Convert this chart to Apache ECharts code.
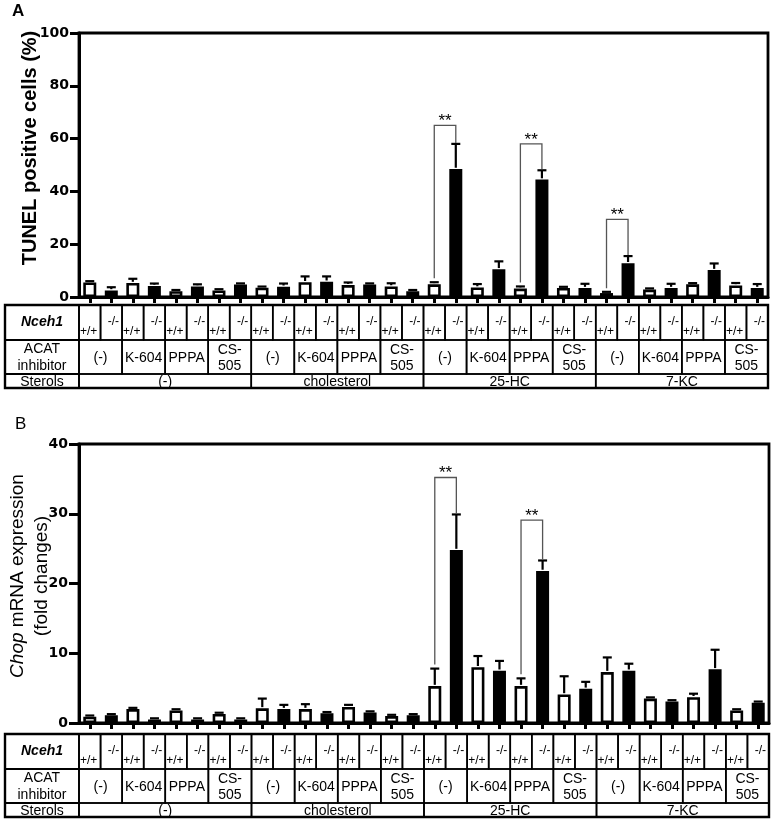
<!DOCTYPE html>
<html><head><meta charset="utf-8">
<script src="https://cdn.jsdelivr.net/npm/echarts@6/dist/echarts.min.js"></script>
<style>html,body{margin:0;padding:0;background:#fff}#c{width:774px;height:819px}</style>
</head><body><div id="c"></div><script>
// ---- data ----
const sterols = ['(-)', 'cholesterol', '25-HC', '7-KC'];
const inhibitors = ['(-)', 'K-604', 'PPPA', 'CS-\n505'];
const genotypes = ['+/+', '-/-'];
const tunelMean = [5.5,2.5,5.3,4.2, 2.2,4.0,2.5,4.7, 3.5,3.9,5.6,5.8, 4.5,4.7,4.0,2.2,
                   4.8,48.5,3.6,10.5, 3.2,44.5,3.4,3.4, 1.5,12.8,2.8,3.4, 4.8,10.2,4.4,3.4];
const tunelErr  = [0.5,1.2,1.6,0.9, 0.3,0.8,0.2,0.3, 0.2,1.2,2.2,2.0, 1.0,0.3,1.2,0.3,
                   0.8,9.5,1.3,3.0, 0.8,3.5,0.3,1.6, 0.3,2.7,0.2,1.6, 0.3,2.5,0.9,1.5];
const chopMean  = [0.9,1.1,2.0,0.5, 1.8,0.5,1.3,0.5, 2.1,2.0,2.0,1.4, 2.3,1.5,1.0,1.1,
                   5.3,24.8,8.0,7.5, 5.3,21.8,4.1,4.9, 7.3,7.5,3.5,3.1, 3.7,7.7,1.8,2.9];
const chopErr   = [0.1,0.1,0.1,0.05, 0.1,0.05,0.15,0.05, 1.4,0.6,0.7,0.1, 0.3,0.1,0.1,0.1,
                   2.5,5.1,1.6,1.4, 1.1,1.5,2.6,1.0, 2.1,1.0,0.1,0.1, 0.5,2.8,0.1,0.1];
const tunelTicks = [0, 100, 20];
const chopTicks = [0, 40, 10];
// significance brackets: [left bar index, right bar index, bracket height]
const sigA = [[16,17,65],[20,21,58],[24,25,29.4]];
const sigB = [[16,17,35.2],[20,21,29.1]];
const sigLabel = '**';

// ---- chart ----
const FONT = '"Liberation Sans", Arial, Helvetica, sans-serif';
const TICKFONT = '"DejaVu Sans", sans-serif';
const cats = [];
sterols.forEach(s => inhibitors.forEach(a => genotypes.forEach(g => cats.push(s + '|' + a + '|' + g))));
const N = cats.length;
const isKO = i => genotypes[i % genotypes.length] === '-/-';

const chart = echarts.init(document.getElementById('c'));

function barSeries(mean, k) {
  return {
    type: 'bar', xAxisIndex: k, yAxisIndex: k, barWidth: 13, z: 2,
    data: mean.map((v, i) => ({
      value: v,
      itemStyle: { color: isKO(i) ? '#000' : '#fff', borderColor: '#000', borderWidth: 2.6 }
    }))
  };
}
function errSeries(mean, err, k) {
  return {
    type: 'custom', xAxisIndex: k, yAxisIndex: k, z: 3,
    data: mean.map((v, i) => [i, v, err[i]]),
    renderItem: (params, api) => {
      const i = api.value(0), m = api.value(1), e = api.value(2);
      const p0 = api.coord([i, m]), p1 = api.coord([i, m + e]);
      const top = Math.min(p1[1], p0[1] - 1.2);
      return { type: 'group', children: [
        { type: 'line', shape: { x1: p0[0], y1: p0[1] - 1.2, x2: p0[0], y2: top }, style: { stroke: '#000', lineWidth: 2.2 } },
        { type: 'line', shape: { x1: p0[0] - 4.5, y1: top, x2: p0[0] + 4.5, y2: top }, style: { stroke: '#000', lineWidth: 2.2 } }
      ]};
    }
  };
}
function sigSeries(sig, mean, err, k) {
  return {
    type: 'custom', xAxisIndex: k, yAxisIndex: k, z: 4,
    data: sig.map(s => [s[0], s[1], s[2]]),
    renderItem: (params, api) => {
      const a = api.value(0), b = api.value(1), t = api.value(2);
      const pa = api.coord([a, mean[a] + err[a]]), pb = api.coord([b, mean[b] + err[b]]), pt = api.coord([a, t]);
      return { type: 'group', children: [
        { type: 'polyline', shape: { points: [[pa[0], pa[1] - 4], [pa[0], pt[1]], [pb[0], pt[1]], [pb[0], pb[1] - 1]] },
          style: { stroke: '#555', lineWidth: 1.3, fill: null } },
        { type: 'text', x: (pa[0] + pb[0]) / 2, y: pt[1] - 4,
          style: { text: sigLabel, align: 'center', verticalAlign: 'middle', font: '17px ' + FONT, fill: '#000' } }
      ]};
    }
  };
}
function xAx(k) {
  return {
    type: 'category', gridIndex: k, data: cats, boundaryGap: true,
    axisLabel: { show: false, interval: 0 },
    axisTick: { show: true, interval: 0, alignWithLabel: true, length: 6, lineStyle: { width: 3, color: '#000' } },
    axisLine: { show: true, lineStyle: { width: 3, color: '#000' } }
  };
}
function yAx(k, ticks, tickLen) {
  return {
    type: 'value', gridIndex: k, min: ticks[0], max: ticks[1], interval: ticks[2],
    splitLine: { show: false },
    axisLine: { show: true, lineStyle: { width: 3, color: '#000' } },
    axisTick: { show: true, length: tickLen, lineStyle: { width: 3, color: '#000' } },
    axisLabel: { fontFamily: TICKFONT, fontWeight: 'bold', fontSize: 14, color: '#000', margin: tickLen + 1 }
  };
}

chart.setOption({
  animation: false,
  backgroundColor: '#fff',
  grid: [
    { left: 79, top: 33, width: 689, height: 264, show: true, borderColor: '#000', borderWidth: 2.8, backgroundColor: 'transparent' },
    { left: 79, top: 444, width: 690, height: 279, show: true, borderColor: '#000', borderWidth: 2.8, backgroundColor: 'transparent' }
  ],
  xAxis: [xAx(0), xAx(1)],
  yAxis: [yAx(0, tunelTicks, 9), yAx(1, chopTicks, 10)],
  series: [
    barSeries(tunelMean, 0), errSeries(tunelMean, tunelErr, 0), sigSeries(sigA, tunelMean, tunelErr, 0),
    barSeries(chopMean, 1), errSeries(chopMean, chopErr, 1), sigSeries(sigB, chopMean, chopErr, 1)
  ]
});

// ---- tables & titles (positions derived from the axes) ----
function txt(text, x, y, font, align, valign, lineHeight) {
  const st = { text: text, font: font, fill: '#000', align: align, verticalAlign: valign };
  if (lineHeight) st.lineHeight = lineHeight;
  return { type: 'text', x: x, y: y, z: 10, style: st };
}
function rect(x, y, w, h, lw) {
  return { type: 'rect', z: 9, shape: { x: x, y: y, width: w, height: h }, style: { fill: null, stroke: '#000', lineWidth: lw } };
}
function table(k, gap, rowH) {
  const els = [];
  const base = chart.convertToPixel({ yAxisIndex: k }, 0);
  const xc = i => chart.convertToPixel({ xAxisIndex: k }, i);
  const slot = xc(1) - xc(0);
  const L = 5, x0 = xc(0) - slot / 2, x1 = xc(N - 1) + slot / 2;
  const t0 = base + gap, t1 = t0 + rowH[0], t2 = t1 + rowH[1], t3 = t2 + rowH[2];
  // label column
  els.push(rect(L, t0, x0 - L, rowH[0], 1.8), rect(L, t1, x0 - L, rowH[1], 1.8), rect(L, t2, x0 - L, rowH[2], 1.8));
  els.push(txt('Nceh1', (L + x0) / 2, (t0 + t1) / 2, 'italic bold 14px ' + FONT, 'center', 'middle'));
  els.push(txt('ACAT\ninhibitor', (L + x0) / 2, (t1 + t2) / 2 + 1, '14px ' + FONT, 'center', 'middle', 17));
  els.push(txt('Sterols', (L + x0) / 2, (t2 + t3) / 2 + 1, '14px ' + FONT, 'center', 'middle'));
  // genotype cells
  for (let i = 0; i < N; i++) {
    const cl = xc(i) - slot / 2;
    els.push(rect(cl, t0, slot, rowH[0], 1.6));
    const g = genotypes[i % genotypes.length];
    if (g === '+/+') els.push(txt(g, cl + 1, t1 - 2, '12px ' + FONT, 'left', 'bottom'));
    else els.push(txt(g, cl + slot - 3, (t0 + t1) / 2 - 1, '12px ' + FONT, 'right', 'middle'));
  }
  // inhibitor cells
  const ng = genotypes.length;
  for (let j = 0; j < N / ng; j++) {
    const cl = xc(j * ng) - slot / 2, w = slot * ng;
    els.push(rect(cl, t1, w, rowH[1], 1.6));
    els.push(txt(inhibitors[j % inhibitors.length], cl + w / 2, (t1 + t2) / 2 + 1, '14px ' + FONT, 'center', 'middle', 16));
  }
  // sterol cells
  const ns = ng * inhibitors.length;
  for (let s = 0; s < sterols.length; s++) {
    const cl = xc(s * ns) - slot / 2, w = slot * ns;
    els.push(rect(cl, t2, w, rowH[2], 1.6));
    els.push(txt(sterols[s], cl + w / 2, (t2 + t3) / 2 + 1, '14px ' + FONT, 'center', 'middle'));
  }
  els.push(rect(L, t0, x1 - L, t3 - t0, 2.4));
  return els;
}

const g = [];
g.push(...table(0, 8, [35, 34, 14]));
g.push(...table(1, 11, [35, 34, 14]));
g.push(txt('A', 12, 3, 'bold 17px ' + FONT, 'left', 'top'));
g.push(txt('B', 15, 416, '17px ' + FONT, 'left', 'top'));
g.push({ type: 'text', x: 30, y: 148, rotation: Math.PI / 2, z: 10,
  style: { text: 'TUNEL positive cells (%)', font: 'bold 20px ' + FONT, fill: '#000', align: 'center', verticalAlign: 'middle' } });
g.push({ type: 'text', x: 30, y: 576, rotation: Math.PI / 2, z: 10,
  style: { text: '{i|Chop} mRNA expression\n(fold changes)', font: '19px ' + FONT, fill: '#000', align: 'center', verticalAlign: 'middle', lineHeight: 24,
    rich: { i: { fontStyle: 'italic', fontSize: 19, fontFamily: FONT } } } });
chart.setOption({ graphic: g });
</script></body></html>
